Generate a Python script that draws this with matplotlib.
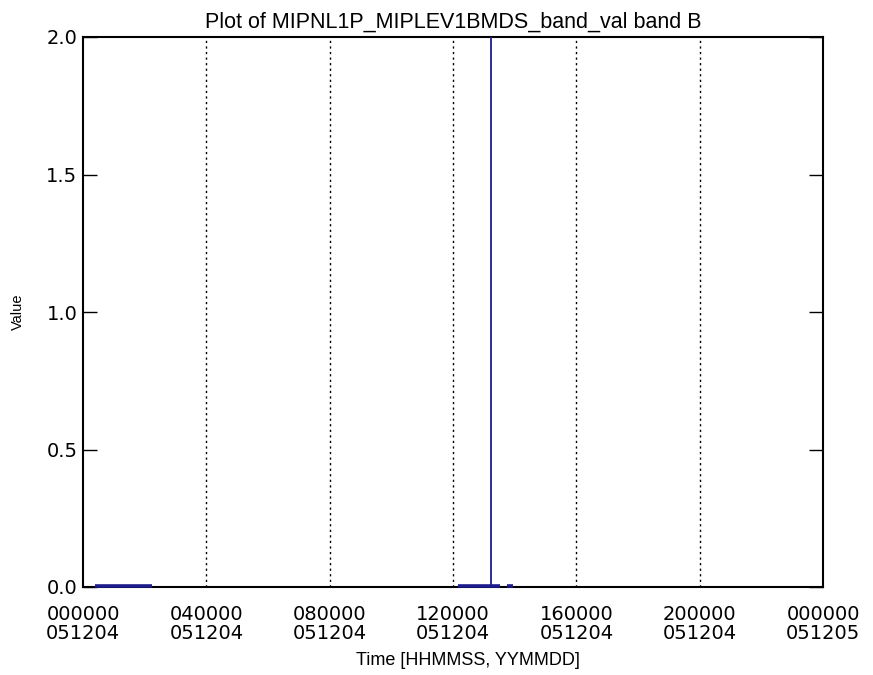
import matplotlib
matplotlib.use("Agg")
import matplotlib.pyplot as plt

# time in hours since 000000 051204
seg1_t = [0.39, 2.24]
seg1_v = [0.005, 0.005]
seg2_t = [12.16, 13.23]
seg2_v = [0.005, 0.005]
spike_t = [13.23, 13.23]
spike_v = [0.005, 2.3]
seg3_t = [13.23, 13.52]
seg3_v = [0.005, 0.005]
seg4_t = [13.75, 13.95]
seg4_v = [0.005, 0.005]

tick_hours = [0, 4, 8, 12, 16, 20, 24]
tick_labels = ["000000\n051204", "040000\n051204", "080000\n051204",
               "120000\n051204", "160000\n051204", "200000\n051204",
               "000000\n051205"]
y_ticks = [0.0, 0.5, 1.0, 1.5, 2.0]

plt.rcParams["font.family"] = ["DejaVu Sans"]

W, H = 873, 675
fig = plt.figure(figsize=(W / 100, H / 100), dpi=100)
ax = fig.add_axes([83 / W, 1 - 587 / H, 740 / W, 550 / H])

line_color = "#1c1c8c"
for t, v in [(seg1_t, seg1_v), (seg2_t, seg2_v), (seg3_t, seg3_v), (seg4_t, seg4_v)]:
    ax.plot(t, v, color=line_color, linewidth=2.6, solid_capstyle="butt",
            zorder=4, clip_on=False)
ax.plot(spike_t, spike_v, color=line_color, linewidth=1.3, zorder=4)

for h in tick_hours[1:-1]:
    ax.axvline(h, color="black", linestyle=(0, (1.6, 2.4)), linewidth=1.0, zorder=2)

ax.set_xlim(0, 24)
ax.set_ylim(0, 2.0)
ax.set_xticks(tick_hours)
ax.set_xticklabels(tick_labels, fontsize=14, linespacing=0.98)
ax.set_yticks(y_ticks)
ax.set_yticklabels([f"{v:.1f}" for v in y_ticks], fontsize=14)
ax.tick_params(axis="x", length=0, pad=13)
ax.tick_params(axis="y", direction="in", length=10, width=1, right=True, pad=4)

for s in ax.spines.values():
    s.set_linewidth(1.5)

fig.text(453 / W, 1 - 28 / H, "Plot of MIPNL1P_MIPLEV1BMDS_band_val band B",
         fontsize=15.5, family="Liberation Sans", ha="center", va="baseline")
fig.text(468 / W, 1 - 665 / H, "Time [HHMMSS, YYMMDD]",
         fontsize=13, family="Liberation Sans", ha="center", va="baseline")
fig.text(18 / W, 1 - 312 / H, "Value", fontsize=10.5, family="Liberation Sans",
         rotation=90, ha="center", va="center")

fig.savefig("out.png", dpi=100)
